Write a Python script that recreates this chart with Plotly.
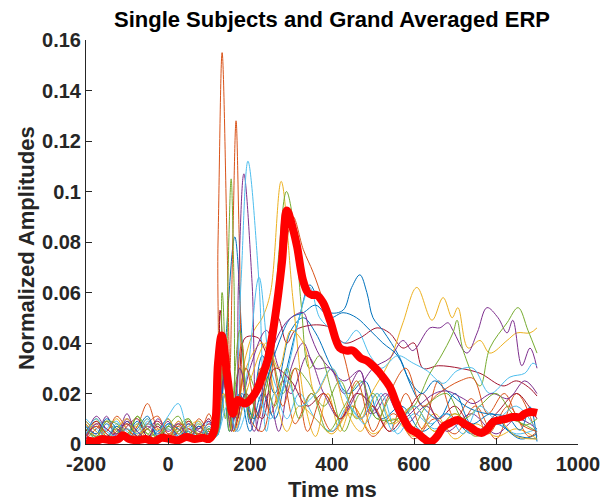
import plotly.graph_objects as go

# ---------------- data ----------------
BASE_T = [-200, -175, -150, -125, -100, -75, -50, -25, 0, 25, 50, 75, 100]

s01_base = [.006, .003, .008, .004, .009, .003, .006, .002, .007, .004, .008, .003, .005]
s01_t = [118, 140, 163, 185, 200, 230, 260, 300, 330, 360, 400, 440, 480, 520, 570, 620, 680, 740, 800, 860, 900]
s01_v = [.003, .04, .082, .03, .008, .035, .02, .045, .05, .044, .03, .02, .025, .01, .015, .005, .012, .004, .008, .002, .004]

s02_base = [.004, .008, .003, .006, .002, .007, .016, .006, .003, .006, .002, .007, .004]
s02_t = [112, 122, 132, 144, 151, 158, 166, 174, 186, 205, 225, 250, 280, 310, 350, 400, 450, 500, 550, 600, 650, 700, 750, 800, 850, 900]
s02_v = [.003, .08, .155, .08, .03, .08, .128, .08, .02, .01, .03, .012, .025, .008, .02, .005, .015, .003, .012, .002, .01, .004, .015, .002, .02, .003]

s03_base = [.003, .009, .004, .002, .008, .005, .010, .003, .006, .002, .009, .004, .006]
s03_t = [118, 140, 160, 190, 210, 230, 250, 276, 305, 335, 360, 390, 420, 450, 500, 550, 600, 650, 700, 750, 800, 850, 900]
s03_v = [.004, .03, .01, .035, .045, .05, .06, .104, .057, .015, .003, .02, .005, .015, .004, .01, .003, .012, .002, .008, .003, .006, .002]

s04_base = [.008, .004, .011, .003, .010, .005, .002, .008, .003, .009, .004, .007, .003]
s04_t = [118, 140, 162, 172, 185, 205, 220, 245, 270, 300, 330, 360, 395, 430, 468, 500, 540, 580, 630, 680, 740, 800, 850, 900]
s04_v = [.003, .02, .01, .064, .107, .064, .005, .02, .005, .03, .04, .03, .03, .02, .029, .012, .02, .008, .015, .005, .012, .004, .01, .006]

s05_base = [.005, .010, .003, .007, .002, .011, .004, .008, .002, .007, .010, .003, .005]
s05_t = [118, 130, 140, 146, 154, 161, 168, 190, 220, 250, 280, 310, 340, 380, 420, 460, 500, 540, 600, 650, 700, 760, 820, 900]
s05_v = [.004, .02, .01, .064, .105, .064, .01, .03, .02, .035, .02, .03, .025, .015, .025, .01, .02, .008, .015, .005, .012, .004, .01, .005]

s06_base = [.007, .002, .006, .009, .003, .005, .010, .002, .008, .004, .003, .009, .004]
s06_t = [118, 140, 160, 178, 195, 222, 240, 260, 290, 320, 360, 400, 440, 480, 520, 560, 600, 650, 700, 750, 800, 850, 900]
s06_v = [.003, .02, .005, .064, .112, .064, .005, .02, .01, .02, .01, .005, .015, .008, .02, .004, .012, .006, .01, .003, .008, .004, .006]

s07_base = [.004, .007, .002, .005, .008, .003, .006, .009, .004, .002, .006, .004, .008]
s07_t = [118, 127, 145, 170, 188, 220, 245, 268, 290, 310, 346, 378, 395, 430, 468, 510, 540, 573, 600, 622, 660, 712, 761, 817, 850, 883, 900]
s07_v = [.005, .053, .02, .01, .042, .042, .035, .05, .04, .045, .047, .047, .046, .04, .042, .046, .044, .038, .04, .03, .031, .03, .028, .023, .025, .022, .019]

s08_base = [.009, .005, .002, .007, .004, .009, .003, .005, .010, .003, .005, .002, .006]
s08_t = [118, 135, 150, 175, 200, 230, 260, 290, 320, 346, 370, 395, 427, 448, 468, 485, 500, 524, 566, 590, 620, 660, 700, 740, 790, 840, 900]
s08_v = [.003, .03, .005, .02, .005, .02, .01, .03, .05, .063, .056, .052, .053, .062, .067, .06, .05, .045, .034, .024, .015, .01, .02, .008, .012, .004, .002]

s09_base = [.002, .006, .009, .004, .006, .002, .008, .011, .004, .007, .003, .010, .005]
s09_t = [118, 135, 155, 180, 200, 230, 260, 285, 305, 330, 354, 378, 400, 427, 444, 470, 500, 540, 580, 620, 660, 700, 740, 780, 830, 880, 900]
s09_v = [.004, .025, .005, .04, .01, .005, .04, .075, .09, .077, .068, .057, .047, .036, .025, .01, .015, .005, .02, .006, .025, .01, .018, .004, .015, .003, .005]

s10_base = [.008, .003, .005, .010, .004, .007, .002, .006, .003, .009, .005, .003, .007]
s10_t = [118, 135, 160, 190, 230, 260, 290, 320, 360, 400, 440, 470, 493, 541, 573, 607, 644, 671, 693, 707, 732, 761, 785, 827, 851, 883, 900]
s10_v = [.003, .02, .005, .03, .04, .02, .005, .015, .01, .004, .012, .01, .019, .033, .048, .062, .049, .058, .05, .054, .038, .041, .036, .041, .044, .044, .046]

s11_base = [.003, .011, .006, .004, .012, .003, .007, .004, .009, .002, .008, .005, .004]
s11_t = [118, 140, 165, 200, 240, 270, 300, 340, 380, 420, 460, 500, 541, 573, 597, 639, 663, 683, 695, 729, 754, 778, 805, 827, 841, 863, 883, 900]
s11_v = [.004, .03, .005, .03, .045, .03, .02, .035, .02, .01, .02, .03, .034, .041, .037, .046, .046, .048, .045, .036, .044, .054, .05, .044, .049, .031, .038, .03]

s12_base = [.006, .002, .009, .005, .003, .008, .004, .002, .007, .011, .004, .008, .003]
s12_t = [118, 132, 150, 175, 210, 250, 270, 289, 310, 325, 345, 370, 400, 430, 470, 510, 560, 600, 639, 663, 695, 705, 720, 761, 785, 827, 854, 878, 900]
s12_v = [.003, .06, .01, .03, .01, .03, .075, .1, .083, .055, .03, .035, .02, .005, .02, .01, .01, .015, .028, .034, .044, .049, .037, .023, .038, .048, .054, .045, .036]

s13_base = [.010, .006, .003, .008, .005, .002, .009, .004, .006, .003, .007, .002, .009]
s13_t = [118, 140, 165, 195, 222, 250, 275, 300, 320, 346, 370, 400, 430, 460, 493, 520, 560, 598, 632, 671, 705, 744, 785, 834, 870, 890, 900]
s13_v = [.003, .02, .005, .03, .066, .03, .02, .035, .05, .062, .05, .045, .04, .045, .035, .03, .035, .032, .029, .024, .029, .03, .02, .0265, .028, .032, .031]

s14_base = [.005, .009, .004, .002, .007, .010, .003, .007, .002, .005, .009, .006, .010]
s14_t = [118, 140, 160, 190, 230, 260, 300, 340, 380, 420, 460, 500, 540, 580, 620, 660, 700, 750, 800, 850, 880, 900]
s14_v = [.003, .03, .005, .02, .01, .03, .025, .015, .02, .01, .02, .015, .005, .012, .02, .01, .015, .005, .012, .02, .015, .01]

s15_base = [.007, .004, .010, .006, .002, .006, .011, .003, .008, .006, .002, .007, .003]
s15_t = [118, 140, 160, 180, 210, 240, 270, 300, 330, 360, 395, 427, 460, 493, 524, 560, 590, 620, 650, 680, 729, 768, 827, 859, 883, 900]
s15_v = [.003, .035, .01, .02, .01, .025, .04, .05, .052, .055, .05, .052, .05, .045, .04, .035, .025, .02, .025, .021, .0147, .0123, .0107, .0055, .0147, .001]

s16_base = [.003, .007, .005, .011, .006, .003, .008, .005, .002, .008, .006, .004, .012]
s16_t = [118, 140, 160, 190, 220, 250, 280, 310, 340, 380, 420, 460, 500, 540, 580, 620, 660, 712, 744, 780, 820, 860, 900]
s16_v = [.004, .04, .005, .03, .01, .035, .015, .03, .005, .02, .01, .025, .005, .02, .03, .015, .02, .025, .026, .012, .02, .008, .005]

s17_base = [.009, .005, .002, .006, .010, .004, .006, .002, .010, .004, .007, .009, .002]
s17_t = [118, 135, 160, 200, 240, 270, 300, 330, 360, 400, 430, 470, 510, 550, 600, 650, 700, 750, 800, 850, 900]
s17_v = [.003, .02, .005, .025, .04, .03, .045, .04, .02, .03, .015, .005, .02, .008, .015, .005, .012, .003, .01, .003, .002]

s18_base = [.002, .008, .006, .003, .009, .005, .002, .010, .005, .008, .003, .006, .009]
s18_t = [118, 135, 155, 175, 210, 240, 275, 300, 330, 346, 370, 395, 430, 468, 493, 530, 570, 610, 650, 680, 720, 744, 790, 830, 870, 900]
s18_v = [.003, .025, .005, .03, .005, .03, .045, .05, .052, .044, .035, .03, .025, .029, .012, .02, .01, .015, .02, .021, .018, .016, .02, .018, .025, .02]

s19_base = [.006, .003, .009, .008, .004, .011, .006, .003, .007, .005, .010, .003, .006]
s19_t = [118, 132, 150, 175, 200, 230, 260, 290, 320, 350, 390, 430, 470, 510, 550, 590, 630, 680, 720, 760, 800, 840, 870, 900]
s19_v = [.003, .04, .005, .045, .01, .03, .015, .03, .01, .02, .005, .015, .025, .01, .02, .005, .015, .02, .01, .015, .02, .012, .0075, .01]

s20_base = [.004, .010, .005, .003, .006, .004, .008, .005, .011, .016, .005, .002, .007]
s20_t = [118, 145, 170, 210, 250, 290, 320, 360, 400, 430, 470, 510, 550, 600, 640, 680, 720, 760, 800, 850, 900]
s20_v = [.003, .015, .005, .02, .01, .025, .015, .02, .03, .02, .01, .02, .005, .015, .008, .012, .004, .015, .01, .015, .005]

# grand average
ga_t = [-200, -180, -160, -140, -120, -110, -95, -75, -55, -35, -15, 5, 25, 45, 65, 85, 100, 112, 122, 131, 146,
        158, 170, 188, 212, 229, 244, 261, 278, 290, 305, 315, 329, 341, 352, 363, 378, 395, 419, 435, 451, 470,
        485, 500, 517, 541, 557, 573, 590, 607, 625, 640, 656, 671, 690, 707, 722, 737, 752, 766, 780, 793, 810,
        825, 841, 859, 870, 883, 900]
ga_v = [.0015, .001, .002, .0015, .002, .0035, .002, .0015, .002, .001, .0025, .002, .0015, .0028, .002, .0025, .002,
        .005, .032, .043, .025, .012, .0174, .016, .02, .0265, .034, .05, .072, .0925, .085, .078, .065, .06, .059,
        .059, .056, .049, .038, .037, .037, .034, .033, .031, .028, .0226, .016, .0105, .006, .0044, .002, .0008,
        .003, .0067, .0085, .0095, .008, .0067, .005, .0044, .006, .0087, .0095, .01, .0107, .0107, .012, .0127,
        .0123]

subjects = [
    (s01_base, s01_t, s01_v), (s02_base, s02_t, s02_v), (s03_base, s03_t, s03_v), (s04_base, s04_t, s04_v),
    (s05_base, s05_t, s05_v), (s06_base, s06_t, s06_v), (s07_base, s07_t, s07_v), (s08_base, s08_t, s08_v),
    (s09_base, s09_t, s09_v), (s10_base, s10_t, s10_v), (s11_base, s11_t, s11_v), (s12_base, s12_t, s12_v),
    (s13_base, s13_t, s13_v), (s14_base, s14_t, s14_v), (s15_base, s15_t, s15_v), (s16_base, s16_t, s16_v),
    (s17_base, s17_t, s17_v), (s18_base, s18_t, s18_v), (s19_base, s19_t, s19_v), (s20_base, s20_t, s20_v),
]

COLORS = ['#0072BD', '#D95319', '#EDB120', '#7E2F8E', '#77AC30', '#4DBEEE', '#A2142F']
X_TICKS = [-200, 0, 200, 400, 600, 800, 1000]
X_TICK_LABELS = ['-200', '0', '200', '400', '600', '800', '1000']
Y_TICKS = [0, 0.02, 0.04, 0.06, 0.08, 0.1, 0.12, 0.14, 0.16]
Y_TICK_LABELS = ['0', '0.02', '0.04', '0.06', '0.08', '0.1', '0.12', '0.14', '0.16']

# ---------------- figure ----------------
fig = go.Figure()
for i, (b, t, v) in enumerate(subjects):
    fig.add_trace(go.Scatter(
        x=BASE_T + t, y=b + v, mode='lines',
        line=dict(color=COLORS[i % len(COLORS)], width=1, shape='spline', smoothing=1),
        hoverinfo='skip'))

fig.add_trace(go.Scatter(
    x=ga_t, y=ga_v, mode='lines',
    line=dict(color='#FF0000', width=8, shape='spline', smoothing=1),
    hoverinfo='skip'))

FONT = 'Arial, Liberation Sans, sans-serif'
AX = '#262626'

fig.update_layout(
    width=606, height=501,
    margin=dict(l=86, r=28, t=40, b=57, autoexpand=False),
    plot_bgcolor='white', paper_bgcolor='white',
    showlegend=False,
    font=dict(family=FONT, color=AX),
    xaxis=dict(range=[-200, 1000], tickvals=X_TICKS, ticktext=X_TICK_LABELS, ticks='inside', ticklen=6,
               tickwidth=1, tickcolor=AX, showline=True, linecolor=AX, linewidth=1, showgrid=False,
               zeroline=False, ticklabelstandoff=2,
               tickfont=dict(family=FONT, size=20, color=AX, weight='bold'), automargin=False),
    yaxis=dict(range=[0, 0.16], tickvals=Y_TICKS, ticktext=Y_TICK_LABELS, ticks='inside', ticklen=6,
               tickwidth=1, tickcolor=AX, showline=True, linecolor=AX, linewidth=1, showgrid=False,
               zeroline=False, tickfont=dict(family=FONT, size=20, color=AX, weight='bold'), automargin=False),
    annotations=[
        dict(text='Single Subjects and Grand Averaged ERP', xref='paper', yref='paper', x=0.5,
             y=(444 - 20) / 404, xanchor='center', yanchor='middle', showarrow=False,
             font=dict(family=FONT, size=22, color='black', weight='bold')),
        dict(text='Time ms', xref='paper', yref='paper', x=0.5, y=(444 - 489) / 404,
             xanchor='center', yanchor='middle', showarrow=False,
             font=dict(family=FONT, size=22, color=AX, weight='bold')),
        dict(text='Normalized Amplitudes', xref='paper', yref='paper', x=(26 - 86) / 492,
             y=(444 - 248) / 404, xanchor='center', yanchor='middle', textangle=-90, showarrow=False,
             font=dict(family=FONT, size=22, color=AX, weight='bold')),
    ],
)

fig.write_html('out.html', config={'displayModeBar': False},
               post_script="document.body.style.margin='0';document.body.style.overflow='hidden';")
